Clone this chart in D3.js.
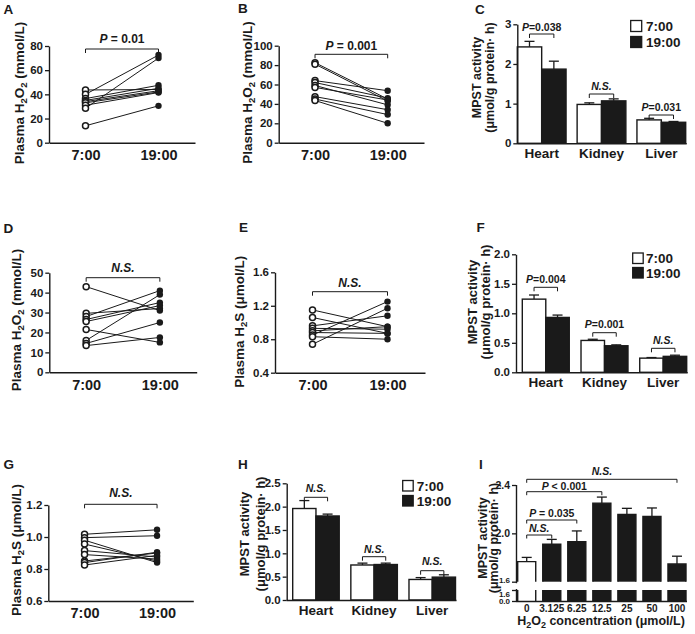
<!DOCTYPE html>
<html><head><meta charset="utf-8">
<script src="https://cdn.jsdelivr.net/npm/d3@7"></script>
<style>body{margin:0;background:#fff} svg{display:block;font-family:"Liberation Sans",Arial,sans-serif}</style>
</head><body><svg id="c" width="695" height="634"></svg>
<script>
// ---------- data ----------
const timeLabels = ["7:00", "19:00"];
const panelA_am = [43.6, 40, 36.5, 35, 34, 33, 31, 28.5, 14];
const panelA_pm = [44, 72.5, 47.5, 45, 43, 42, 41.5, 70, 30.5];
const panelB_am = [82.5, 81, 64, 62, 59, 57, 47.5, 45, 43.5];
const panelB_pm = [45, 43, 53.6, 46, 39, 44, 34, 29, 20];
const panelD_am = [43, 29.6, 28, 26.5, 25.5, 21.5, 16, 14.5, 13.4];
const panelD_pm = [31, 32, 41, 35, 33.5, 15, 39, 25, 17.5];
const panelE_am = [1.15, 1.06, 0.96, 0.93, 0.90, 0.88, 0.85, 0.83, 0.74];
const panelE_pm = [0.95, 0.87, 1.08, 0.92, 0.95, 0.87, 1.25, 0.80, 1.17];
const panelG_am = [1.017, 0.996, 0.98, 0.956, 0.915, 0.89, 0.85, 0.84, 0.825];
const panelG_pm = [1.045, 1.008, 0.84, 0.85, 0.875, 0.862, 0.90, 0.905, 0.885];

const organs = ["Heart", "Kidney", "Liver"];
const panelC_am = [2.43, 0.98, 0.59], panelC_amErr = [0.14, 0.04, 0.04];
const panelC_pm = [1.87, 1.07, 0.53], panelC_pmErr = [0.20, 0.05, 0.02];
const panelC_sig = ["P=0.038", "N.S.", "P=0.031"];
const panelF_am = [1.24, 0.54, 0.24], panelF_amErr = [0.07, 0.02, 0.01];
const panelF_pm = [0.93, 0.45, 0.27], panelF_pmErr = [0.04, 0.015, 0.02];
const panelF_sig = ["P=0.004", "P=0.001", "N.S."];
const panelH_am = [1.96, 0.75, 0.44], panelH_amErr = [0.17, 0.04, 0.04];
const panelH_pm = [1.80, 0.76, 0.49], panelH_pmErr = [0.04, 0.03, 0.05];
const panelH_sig = ["N.S.", "N.S.", "N.S."];

const concLabels = ["0", "3.125", "6.25", "12.5", "25", "50", "100"];
const panelI_mean = [1.766, 1.91, 1.93, 2.25, 2.157, 2.14, 1.746];
const panelI_err = [0.035, 0.04, 0.09, 0.05, 0.05, 0.07, 0.065];
const panelI_comp = [["100", "N.S."], ["12.5", "P < 0.001"], ["6.25", "P = 0.035"], ["3.125", "N.S."]];

// ---------- helpers ----------
const svg = d3.select("#c");
const INK = "#1a1a1a";
const FF = '"Liberation Sans", Arial, sans-serif';

function styleAxis(sel, fs) {
  sel.attr("font-family", FF);
  sel.select(".domain").attr("stroke", INK).attr("stroke-width", 1.4);
  sel.selectAll(".tick line").attr("stroke", INK).attr("stroke-width", 1.3);
  sel.selectAll(".tick text").attr("font-size", fs).attr("font-weight", "bold").attr("fill", INK);
}
function title(txt, x, y) {
  svg.append("text").attr("x", x).attr("y", y).attr("font-size", 13.5).attr("font-weight", "bold").attr("fill", INK).text(txt);
}
function sigText(g, x, y, str, fs) {
  const t = g.append("text").attr("x", x).attr("y", y).attr("text-anchor", "middle")
    .attr("font-size", fs).attr("font-weight", "bold").attr("fill", INK);
  if (str.startsWith("N.S.")) t.append("tspan").attr("font-style", "italic").text(str);
  else { t.append("tspan").attr("font-style", "italic").text("P"); t.append("tspan").text(str.slice(1)); }
}
function bracket(g, xa, xb, y, leg) {
  g.append("path").attr("d", `M${xa},${y + leg}V${y}H${xb}V${y + leg}`)
    .attr("fill", "none").attr("stroke", INK).attr("stroke-width", 1);
}
function plasmaLabel(g, cx, cy, species, unit) {
  const t = g.append("text").attr("transform", `translate(${cx},${cy}) rotate(-90)`)
    .attr("text-anchor", "middle").attr("dy", "0.35em").attr("font-size", 13.5).attr("font-weight", "bold").attr("fill", INK);
  t.append("tspan").text("Plasma H");
  t.append("tspan").attr("font-size", 9.5).attr("dy", 3).text("2");
  if (species === "H2O2") {
    t.append("tspan").attr("dy", -3).text("O");
    t.append("tspan").attr("font-size", 9.5).attr("dy", 3).text("2");
    t.append("tspan").attr("dy", -3).text(" " + unit);
  } else {
    t.append("tspan").attr("dy", -3).text("S " + unit);
  }
}
function mpstLabel(g, x1, x2, cy, fs) {
  g.append("text").attr("transform", `translate(${x1},${cy}) rotate(-90)`).attr("text-anchor", "middle").attr("dy", "0.35em")
    .attr("font-size", fs).attr("font-weight", "bold").attr("fill", INK).text("MPST activity");
  g.append("text").attr("transform", `translate(${x2},${cy}) rotate(-90)`).attr("text-anchor", "middle").attr("dy", "0.35em")
    .attr("font-size", fs).attr("font-weight", "bold").attr("fill", INK).text("(μmol/g protein· h)");
}

// ---------- paired scatter panels ----------
function scatter(c) {
  const g = svg.append("g");
  const x = d3.scalePoint().domain(timeLabels).range([c.x0, c.x1]).padding(0.5);
  const y = d3.scaleLinear().domain(c.domain).range([c.yBot, c.yTop]);
  const ya = g.append("g").attr("transform", `translate(${c.x0},0)`)
    .call(d3.axisLeft(y).tickValues(c.ticks).tickFormat(d3.format(c.fmt)).tickSize(4).tickSizeOuter(0).tickPadding(2));
  styleAxis(ya, 11.5);
  const xa = g.append("g").attr("transform", `translate(0,${c.yBot})`)
    .call(d3.axisBottom(x).tickSize(0).tickSizeOuter(0).tickPadding(7));
  styleAxis(xa, 14.5);
  c.am.forEach((v, i) => {
    g.append("line").attr("x1", x("7:00")).attr("y1", y(v)).attr("x2", x("19:00")).attr("y2", y(c.pm[i]))
      .attr("stroke", INK).attr("stroke-width", 1);
  });
  c.am.forEach(v => g.append("circle").attr("cx", x("7:00")).attr("cy", y(v)).attr("r", 3)
    .attr("fill", "#fff").attr("stroke", INK).attr("stroke-width", 1.5));
  c.pm.forEach(v => g.append("circle").attr("cx", x("19:00")).attr("cy", y(v)).attr("r", 3.2).attr("fill", INK));
  bracket(g, x("7:00"), x("19:00"), c.bY, 4);
  sigText(g, (x("7:00") + x("19:00")) / 2, c.sY, c.sig, 12);
  plasmaLabel(g, c.lx, c.ly, c.species, c.unit);
}

scatter({x0: 49, x1: 195, yTop: 46, yBot: 142.7, domain: [0, 80], ticks: [0, 20, 40, 60, 80], fmt: "d",
  am: panelA_am, pm: panelA_pm, bY: 49, sY: 43, sig: "P = 0.01", lx: 19, ly: 93, species: "H2O2", unit: "(mmol/L)"});
scatter({x0: 278.7, x1: 424, yTop: 45.7, yBot: 142.7, domain: [0, 100], ticks: [0, 20, 40, 60, 80, 100], fmt: "d",
  am: panelB_am, pm: panelB_pm, bY: 54.3, sY: 50, sig: "P = 0.001", lx: 247.5, ly: 92.5, species: "H2O2", unit: "(mmol/L)"});
scatter({x0: 49.3, x1: 196.7, yTop: 272.7, yBot: 372.3, domain: [0, 50], ticks: [0, 10, 20, 30, 40, 50], fmt: "d",
  am: panelD_am, pm: panelD_pm, bY: 277.7, sY: 271.7, sig: "N.S.", lx: 16, ly: 320, species: "H2O2", unit: "(mmol/L)"});
scatter({x0: 275, x1: 425, yTop: 272.3, yBot: 372.7, domain: [0.4, 1.6], ticks: [0.4, 0.8, 1.2, 1.6], fmt: ".1f",
  am: panelE_am, pm: panelE_pm, bY: 291.7, sY: 287, sig: "N.S.", lx: 239, ly: 321.7, species: "H2S", unit: "(μmol/L)"});
scatter({x0: 48.3, x1: 193.3, yTop: 505, yBot: 601, domain: [0.6, 1.2], ticks: [0.6, 0.8, 1.0, 1.2], fmt: ".1f",
  am: panelG_am, pm: panelG_pm, bY: 504.3, sY: 497, sig: "N.S.", lx: 16, ly: 550, species: "H2S", unit: "(μmol/L)"});

// ---------- grouped bar panels ----------
function bars(c) {
  const g = svg.append("g");
  const x = d3.scaleBand().domain(organs).range([c.b0, c.b1]).paddingInner(c.pi).paddingOuter(0);
  const xs = d3.scaleBand().domain(timeLabels).range([0, x.bandwidth()]);
  const y = d3.scaleLinear().domain([0, c.max]).range([c.yBot, c.yTop]);
  const series = [[c.am, c.amErr, "#fff"], [c.pm, c.pmErr, INK]];
  series.forEach(([vals, errs, fill], s) => {
    organs.forEach((o, i) => {
      const bx = x(o) + xs(timeLabels[s]), bw = xs.bandwidth(), cx = bx + bw / 2;
      g.append("line").attr("x1", cx).attr("x2", cx).attr("y1", y(vals[i])).attr("y2", y(vals[i] + errs[i])).attr("stroke", INK).attr("stroke-width", 1.3);
      g.append("line").attr("x1", cx - 5).attr("x2", cx + 5).attr("y1", y(vals[i] + errs[i])).attr("y2", y(vals[i] + errs[i])).attr("stroke", INK).attr("stroke-width", 1.3);
      g.append("rect").attr("x", bx).attr("y", y(vals[i])).attr("width", bw).attr("height", c.yBot - y(vals[i]))
        .attr("fill", fill).attr("stroke", INK).attr("stroke-width", 1.4);
    });
  });
  const ya = g.append("g").attr("transform", `translate(${c.x0},0)`)
    .call(d3.axisLeft(y).tickValues(c.ticks).tickFormat(d3.format(c.fmt)).tickSize(4).tickSizeOuter(0).tickPadding(2));
  styleAxis(ya, 11.5);
  const xa = g.append("g").attr("transform", `translate(0,${c.yBot})`)
    .call(d3.axisBottom(x).tickSize(0).tickSizeOuter(0).tickPadding(5.5));
  xa.select(".domain").attr("d", `M${c.x0},0.5H${c.b1 + 1}`);
  styleAxis(xa, 13.5);
  organs.forEach((o, i) => {
    const a = x(o) + xs("7:00") + xs.bandwidth() / 2, b = x(o) + xs("19:00") + xs.bandwidth() / 2;
    bracket(g, a, b, c.bY[i], 4);
    sigText(g, (a + b) / 2, c.sY[i], c.sig[i], 10.5);
  });
  // legend
  [["7:00", "#fff"], ["19:00", INK]].forEach(([lab, fill], k) => {
    g.append("rect").attr("x", c.lgX).attr("y", c.lgY[k]).attr("width", c.lgS).attr("height", c.lgS)
      .attr("fill", fill).attr("stroke", INK).attr("stroke-width", 1.3);
    g.append("text").attr("x", c.lgTX).attr("y", c.lgY[k] + c.lgS - 0.5).attr("font-size", 13.5).attr("font-weight", "bold").attr("fill", INK).text(lab);
  });
  mpstLabel(g, c.l1, c.l2, c.ly, c.lfs);
}

bars({x0: 517.3, b0: 517.3, b1: 685.7, pi: 0.185, yTop: 24.3, yBot: 143.3, max: 3, ticks: [0, 1, 2, 3], fmt: "d",
  am: panelC_am, amErr: panelC_amErr, pm: panelC_pm, pmErr: panelC_pmErr, sig: panelC_sig,
  bY: [34, 94, 115], sY: [30.5, 90, 111], lgX: 630.7, lgY: [20.5, 36.5], lgS: 11, lgTX: 646, l1: 476.7, l2: 490, ly: 77.5, lfs: 12.5});
bars({x0: 516, b0: 522.3, b1: 686.7, pi: 0.2, yTop: 254.3, yBot: 372.3, max: 2, ticks: [0, 0.5, 1, 1.5, 2], fmt: ".1f",
  am: panelF_am, amErr: panelF_amErr, pm: panelF_pm, pmErr: panelF_pmErr, sig: panelF_sig,
  bY: [287.3, 332.7, 348.3], sY: [282.5, 328, 343.5], lgX: 632.7, lgY: [253, 267.5], lgS: 10.5, lgTX: 646, l1: 472.5, l2: 485, ly: 302, lfs: 13});
bars({x0: 286.7, b0: 292.7, b1: 455.5, pi: 0.2, yTop: 483.3, yBot: 600, max: 2.5, ticks: [0, 0.5, 1, 1.5, 2, 2.5], fmt: ".1f",
  am: panelH_am, amErr: panelH_amErr, pm: panelH_pm, pmErr: panelH_pmErr, sig: panelH_sig,
  bY: [497.3, 556.7, 570.7], sY: [492, 552.5, 564.5], lgX: 402.7, lgY: [480.5, 495.5], lgS: 10.5, lgTX: 416.7, l1: 244, l2: 260, ly: 534, lfs: 13});

// ---------- panel I (broken axis) ----------
(function () {
  const g = svg.append("g");
  const x0 = 516, b0 = 517.7, b1 = 686;
  const x = d3.scaleBand().domain(concLabels).range([b0, b1]).paddingInner(0.28).paddingOuter(0);
  const yT = d3.scaleLinear().domain([1.6, 2.4]).range([581.7, 485]);
  const yL = d3.scaleLinear().domain([0, 1.6]).range([601, 590]);
  concLabels.forEach((k, i) => {
    const bx = x(k), bw = x.bandwidth(), cx = bx + bw / 2, v = panelI_mean[i], e = panelI_err[i];
    const fill = i === 0 ? "#fff" : INK;
    g.append("line").attr("x1", cx).attr("x2", cx).attr("y1", yT(v)).attr("y2", yT(v + e)).attr("stroke", INK).attr("stroke-width", 1.3);
    g.append("line").attr("x1", cx - 5).attr("x2", cx + 5).attr("y1", yT(v + e)).attr("y2", yT(v + e)).attr("stroke", INK).attr("stroke-width", 1.3);
    g.append("rect").attr("x", bx).attr("y", yT(v)).attr("width", bw).attr("height", yT(1.6) - yT(v)).attr("fill", fill);
    g.append("path").attr("d", `M${bx},${yT(1.6)}V${yT(v)}H${bx + bw}V${yT(1.6)}`).attr("fill", "none").attr("stroke", INK).attr("stroke-width", 1.4);
    g.append("rect").attr("x", bx).attr("y", yL(1.6)).attr("width", bw).attr("height", yL(0) - yL(1.6)).attr("fill", fill);
    g.append("path").attr("d", `M${bx},${yL(1.6)}V${yL(0)}M${bx + bw},${yL(1.6)}V${yL(0)}`).attr("fill", "none").attr("stroke", INK).attr("stroke-width", 1.4);
  });
  const ya1 = g.append("g").attr("transform", `translate(${x0},0)`)
    .call(d3.axisLeft(yT).tickValues([1.6, 2.0, 2.4]).tickFormat(d3.format(".1f")).tickSize(4).tickSizeOuter(0).tickPadding(2));
  ya1.select(".domain").attr("d", `M0.5,${yT(2.4)}V${yT(1.6) + 1.5}`);
  styleAxis(ya1, 10.5);
  ya1.selectAll(".tick text").filter(d => d === 1.6).attr("font-size", 8).attr("dy", "0.1em");
  const ya2 = g.append("g").attr("transform", `translate(${x0},0)`)
    .call(d3.axisLeft(yL).tickValues([0, 1.6]).tickFormat(d3.format(".1f")).tickSize(4).tickSizeOuter(0).tickPadding(2));
  ya2.select(".domain").attr("d", `M0.5,${yL(1.6) - 1}V${yL(0)}`);
  styleAxis(ya2, 8);
  ya2.selectAll(".tick text").filter(d => d === 1.6).attr("dy", "0.75em");
  const xa = g.append("g").attr("transform", `translate(0,601)`)
    .call(d3.axisBottom(x).tickSize(0).tickSizeOuter(0).tickPadding(4));
  xa.select(".domain").attr("d", `M${x0},0.5H${b1 + 1}`);
  styleAxis(xa, 10);
  const c0 = x("0") + x.bandwidth() / 2;
  const bys = [479.3, 491.7, 520, 535], sys = [475, 489.5, 517, 532];
  panelI_comp.forEach(([k, s], j) => {
    const cb = x(k) + x.bandwidth() / 2;
    bracket(g, c0, cb, bys[j], 3.5);
    sigText(g, (c0 + cb) / 2, sys[j], s, 10.5);
  });
  const t = g.append("text").attr("x", 601).attr("y", 625).attr("text-anchor", "middle").attr("font-size", 12.5).attr("font-weight", "bold").attr("fill", INK);
  t.append("tspan").text("H");
  t.append("tspan").attr("font-size", 9).attr("dy", 3).text("2");
  t.append("tspan").attr("dy", -3).text("O");
  t.append("tspan").attr("font-size", 9).attr("dy", 3).text("2");
  t.append("tspan").attr("dy", -3).text(" concentration (μmol/L)");
  mpstLabel(g, 482.5, 494, 538, 12.5);
})();

// ---------- panel letters ----------
title("A", 3.5, 13.5); title("B", 238, 13); title("C", 475, 13.5);
title("D", 3.5, 232.5); title("E", 239, 232); title("F", 476.5, 232);
title("G", 3.5, 468.5); title("H", 238, 468.5); title("I", 479, 468.5);
</script></body></html>
